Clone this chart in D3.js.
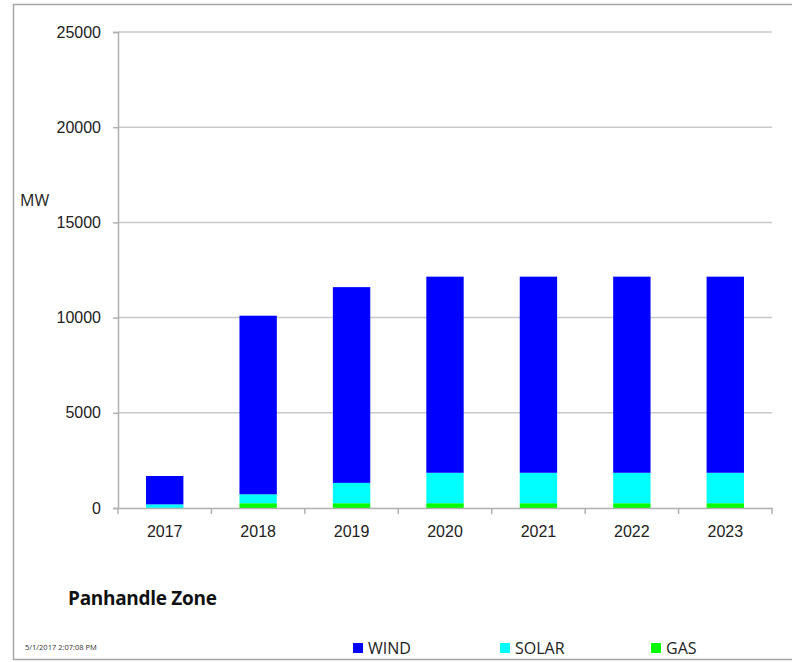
<!DOCTYPE html>
<html>
<head>
<meta charset="utf-8">
<script src="https://cdn.jsdelivr.net/npm/d3@7/dist/d3.min.js"></script>
<style>
  body { margin: 0; background: #fff; }
  svg { display: block; font-family: "Open Sans", "Liberation Sans", sans-serif; }
</style>
</head>
<body>
<svg id="chart" width="792" height="662"></svg>
<script>
// chart data
const years = ["2017", "2018", "2019", "2020", "2021", "2022", "2023"];
const gas = [0, 250, 250, 250, 250, 250, 250];
const solar = [190, 470, 1070, 1600, 1600, 1600, 1600];
const wind = [1490, 9380, 10280, 10300, 10300, 10300, 10300];
const yTicks = [0, 5000, 10000, 15000, 20000, 25000];
const seriesNames = ["GAS", "SOLAR", "WIND"];
const seriesColors = { GAS: "#00ff00", SOLAR: "#00ffff", WIND: "#0000ff" };
const legendOrder = ["WIND", "SOLAR", "GAS"];

const svg = d3.select("#chart");
const plotLeft = 118, plotRight = 772, plotTop = 32, plotBottom = 508;

// outer frame
svg.append("rect")
  .attr("x", 13.5).attr("y", 4.5)
  .attr("width", 800).attr("height", 655)
  .attr("fill", "none")
  .attr("stroke", "#a6a6a6")
  .attr("stroke-width", 1.5);

const x = d3.scaleBand().domain(years).range([plotLeft, plotRight]).paddingInner(0.6).paddingOuter(0.3);
const y = d3.scaleLinear().domain([0, 25000]).range([plotBottom, plotTop]);

// gridlines
svg.append("g")
  .selectAll("line")
  .data(yTicks.filter(d => d > 0))
  .join("line")
  .attr("x1", plotLeft).attr("x2", plotRight)
  .attr("y1", d => y(d)).attr("y2", d => y(d))
  .attr("stroke", "#c8c8c8")
  .attr("stroke-width", 1.5);

// stacked bars
const rows = years.map((yr, i) => ({ year: yr, GAS: gas[i], SOLAR: solar[i], WIND: wind[i] }));
const stacked = d3.stack().keys(seriesNames)(rows);

svg.append("g")
  .selectAll("g")
  .data(stacked)
  .join("g")
  .attr("fill", d => seriesColors[d.key])
  .selectAll("rect")
  .data(d => d)
  .join("rect")
  .attr("x", d => x(d.data.year))
  .attr("width", x.bandwidth())
  .attr("y", d => y(d[1]))
  .attr("height", d => y(d[0]) - y(d[1]));

// y axis
const yAxis = svg.append("g")
  .attr("transform", `translate(${plotLeft},0)`)
  .call(d3.axisLeft(y).tickValues(yTicks).tickSize(5).tickPadding(12).tickFormat(d3.format("d")));
yAxis.select(".domain").attr("stroke", "#b0b0b0").attr("stroke-width", 1.5);
yAxis.selectAll(".tick line").attr("stroke", "#b0b0b0").attr("stroke-width", 1.5);
yAxis.selectAll("text").attr("font-size", 16).attr("fill", "#222");

// x axis
const xAxis = svg.append("g")
  .attr("transform", `translate(0,${plotBottom})`)
  .call(d3.axisBottom(x).tickSize(0).tickPadding(18));
xAxis.select(".domain").attr("stroke", "#b0b0b0").attr("stroke-width", 1.5);
xAxis.selectAll("text").attr("font-size", 16).attr("fill", "#222");

// x tick marks at category boundaries
const step = (plotRight - plotLeft) / years.length;
svg.append("g")
  .selectAll("line")
  .data(d3.range(years.length + 1))
  .join("line")
  .attr("x1", i => plotLeft + i * step).attr("x2", i => plotLeft + i * step)
  .attr("y1", plotBottom).attr("y2", plotBottom + 6)
  .attr("stroke", "#b0b0b0")
  .attr("stroke-width", 1.5);

// axis title
svg.append("text")
  .attr("x", 20).attr("y", 206)
  .attr("font-size", 16).attr("fill", "#222")
  .text("MW");

// chart title
svg.append("text")
  .attr("x", 68).attr("y", 605)
  .attr("font-size", 19).attr("font-weight", "bold").attr("fill", "#111")
  .attr("letter-spacing", -0.3)
  .text("Panhandle Zone");

// timestamp
svg.append("text")
  .attr("x", 25).attr("y", 650)
  .attr("font-size", 7.5).attr("fill", "#333")
  .text("5/1/2017 2:07:08 PM");

// legend
const legendX = { WIND: 353, SOLAR: 500, GAS: 651 };
const legend = svg.append("g")
  .selectAll("g")
  .data(legendOrder)
  .join("g")
  .attr("transform", d => `translate(${legendX[d]},643)`);
legend.append("rect")
  .attr("width", 10).attr("height", 10)
  .attr("fill", d => seriesColors[d]);
legend.append("text")
  .attr("x", 15).attr("y", 10.5)
  .attr("font-size", 16).attr("fill", "#222")
  .text(d => d);
</script>
</body>
</html>
